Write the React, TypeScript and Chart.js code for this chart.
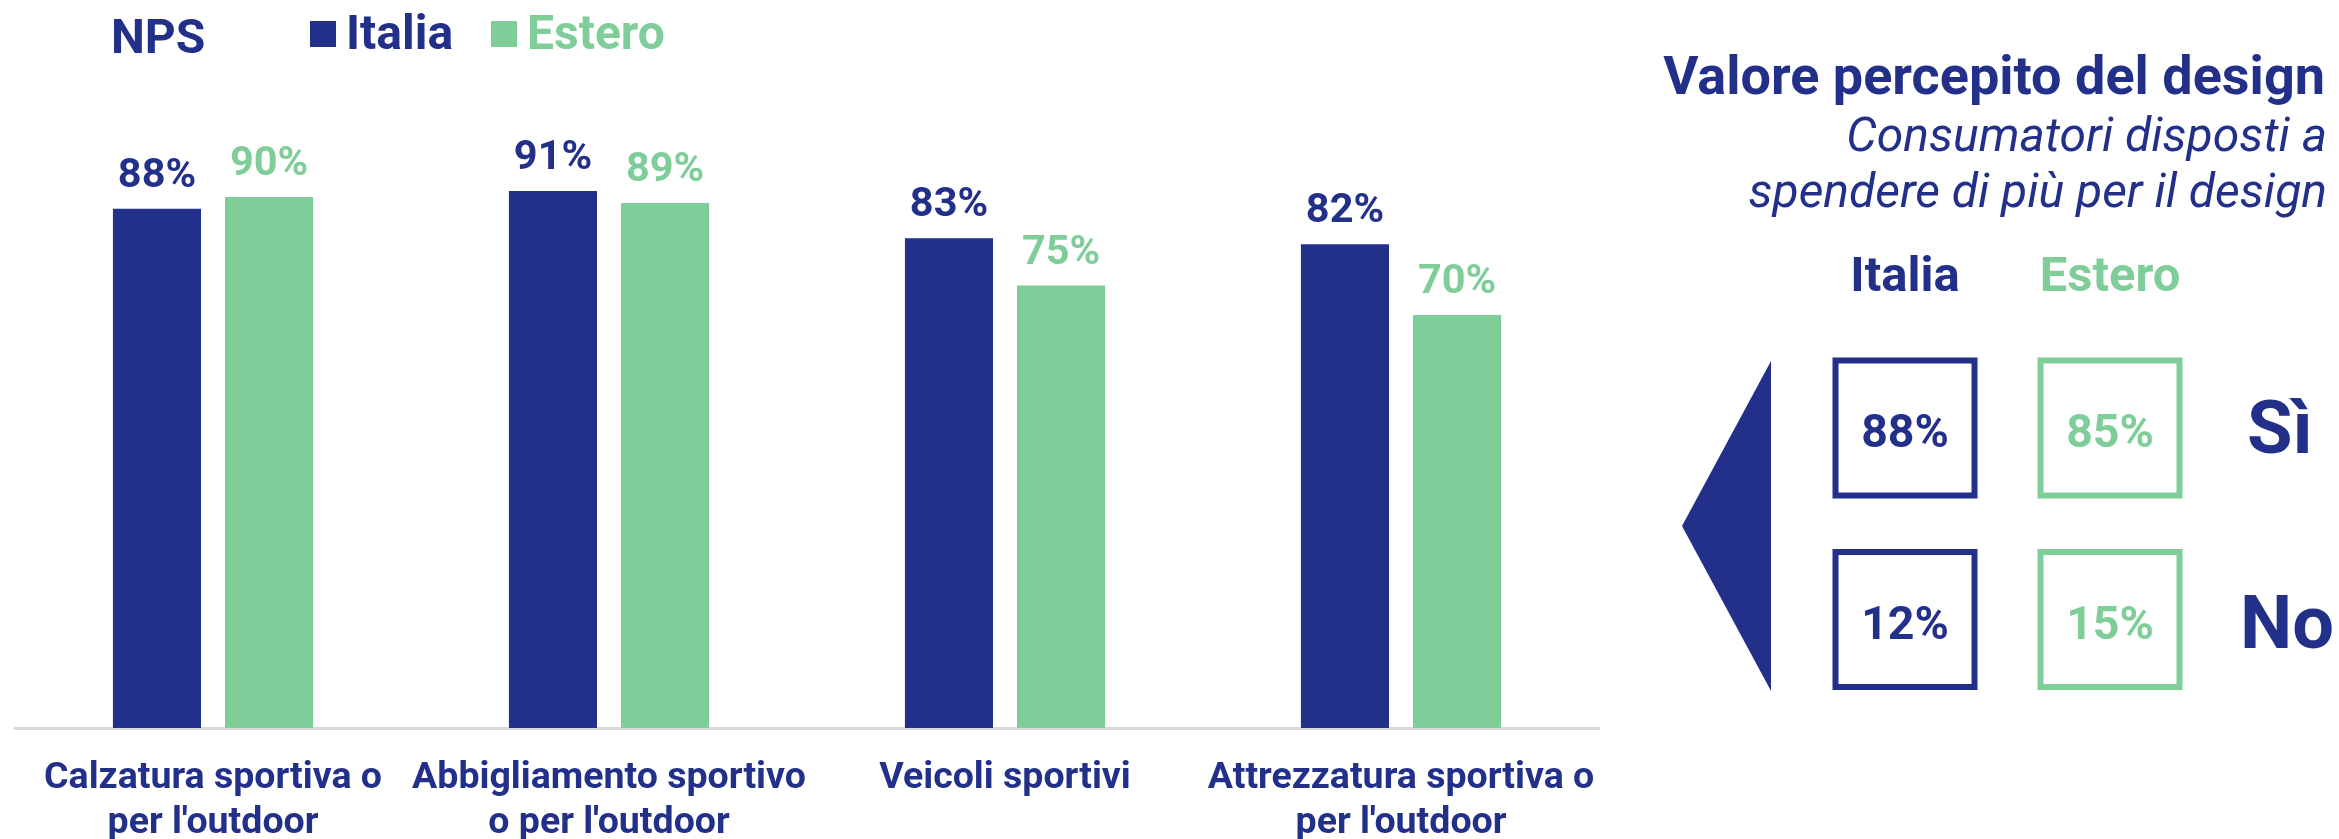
import React, { useEffect, useRef } from "react";
import { Chart, registerables } from "chart.js";

Chart.register(...registerables);

// ---- data ----
const categories: string[][] = [
  ["Calzatura sportiva o", "per l'outdoor"],
  ["Abbigliamento sportivo", "o per l'outdoor"],
  ["Veicoli sportivi"],
  ["Attrezzatura sportiva o", "per l'outdoor"],
];
const seriesNames = ["Italia", "Estero"];
const italiaNps = [88, 91, 83, 82];
const esteroNps = [90, 89, 75, 70];
const chartTitle = "NPS";

const panelTitle = "Valore percepito del design";
const panelSubtitle = ["Consumatori disposti a", "spendere di più per il design"];
const designRows = ["Sì", "No"];
const designItalia = [88, 12];
const designEstero = [85, 15];

// ---- style ----
const NAVY = "#22308A";
const GREEN = "#7FCD98";
const FONT = "Roboto";
const W = 2339;
const H = 839;

const labelsPlugin = {
  id: "barValueLabels",
  afterDatasetsDraw(chart: any) {
    const ctx = chart.ctx;
    ctx.save();
    ctx.font = `bold 41.5px ${FONT}`;
    ctx.textAlign = "center";
    ctx.textBaseline = "alphabetic";
    chart.data.datasets.forEach((ds: any, di: number) => {
      const meta = chart.getDatasetMeta(di);
      ctx.fillStyle = ds.backgroundColor;
      meta.data.forEach((bar: any, i: number) => {
        ctx.fillText(`${ds.data[i]}%`, bar.x, bar.y - 22);
      });
    });
    ctx.restore();
  },
};

const decorPlugin = {
  id: "decor",
  afterDraw(chart: any) {
    const ctx = chart.ctx;
    ctx.save();
    ctx.textBaseline = "alphabetic";

    // Title + legend
    ctx.fillStyle = NAVY;
    ctx.textAlign = "left";
    ctx.font = `bold 48px ${FONT}`;
    ctx.fillText(chartTitle, 111, 53);

    const legendX = [310, 491];
    chart.data.datasets.forEach((ds: any, di: number) => {
      ctx.fillStyle = ds.backgroundColor;
      ctx.fillRect(legendX[di], 21, 26, 26);
      ctx.font = `bold 48px ${FONT}`;
      ctx.fillText(ds.label, legendX[di] + 36, 49);
    });

    // Right panel
    ctx.textAlign = "right";
    ctx.fillStyle = NAVY;
    ctx.font = `bold 54px ${FONT}`;
    ctx.fillText(panelTitle, 2325, 94);
    ctx.font = `italic 48px ${FONT}`;
    ctx.fillText(panelSubtitle[0], 2327, 151);
    ctx.fillText(panelSubtitle[1], 2327, 207);

    const colX = [1905, 2110];
    const colColors = [NAVY, GREEN];
    ctx.textAlign = "center";
    ctx.font = `bold 49px ${FONT}`;
    seriesNames.forEach((n, i) => {
      ctx.fillStyle = colColors[i];
      ctx.fillText(n, colX[i], 291);
    });

    // triangle
    ctx.fillStyle = NAVY;
    ctx.beginPath();
    ctx.moveTo(1771, 361);
    ctx.lineTo(1682, 526);
    ctx.lineTo(1771, 691);
    ctx.closePath();
    ctx.fill();

    const rowCenterY = [428, 619.5];
    const cols = [designItalia, designEstero];
    const boxW = 139;
    const boxH = 135;
    cols.forEach((vals, ci) => {
      vals.forEach((v, ri) => {
        ctx.strokeStyle = colColors[ci];
        ctx.lineWidth = 6;
        ctx.strokeRect(colX[ci] - boxW / 2, rowCenterY[ri] - boxH / 2, boxW, boxH);
        ctx.fillStyle = colColors[ci];
        ctx.font = `bold 46.5px ${FONT}`;
        ctx.textAlign = "center";
        ctx.fillText(`${v}%`, colX[ci], rowCenterY[ri] + 19);
      });
    });

    ctx.fillStyle = NAVY;
    ctx.textAlign = "left";
    ctx.font = `bold 74px ${FONT}`;
    ctx.fillText(designRows[0], 2247, 453);
    ctx.fillText(designRows[1], 2240, 648);

    ctx.restore();
  },
};

export default function App() {
  const ref = useRef<HTMLCanvasElement | null>(null);

  useEffect(() => {
    if (!ref.current) return;
    const chart = new Chart(ref.current, {
      type: "bar",
      data: {
        labels: categories,
        datasets: [
          {
            label: seriesNames[0],
            data: italiaNps,
            backgroundColor: NAVY,
            categoryPercentage: 0.566,
            barPercentage: 0.786,
          },
          {
            label: seriesNames[1],
            data: esteroNps,
            backgroundColor: GREEN,
            categoryPercentage: 0.566,
            barPercentage: 0.786,
          },
        ],
      },
      options: {
        responsive: false,
        animation: false,
        devicePixelRatio: 1,
        layout: { padding: { left: 15, right: W - 1599, top: 138, bottom: 0 } },
        plugins: {
          legend: { display: false },
          title: { display: false },
          tooltip: { enabled: false },
        },
        scales: {
          x: {
            grid: { display: false, drawTicks: false },
            border: { display: true, color: "#D9D9D9", width: 3 },
            ticks: {
              color: NAVY,
              autoSkip: false,
              maxRotation: 0,
              padding: 28,
              font: { family: FONT, size: 37.5, weight: "bold", lineHeight: 1.2 },
            },
            afterFit: (scale: any) => {
              scale.height = 111;
            },
          },
          y: { display: false, min: 0, max: 100 },
        },
      },
      plugins: [labelsPlugin, decorPlugin],
    });
    return () => chart.destroy();
  }, []);

  return (
    <div style={{ position: "absolute", left: 0, top: 0, width: W, height: H, background: "#fff" }}>
      <canvas ref={ref} width={W} height={H} style={{ width: W, height: H, display: "block" }} />
    </div>
  );
}
